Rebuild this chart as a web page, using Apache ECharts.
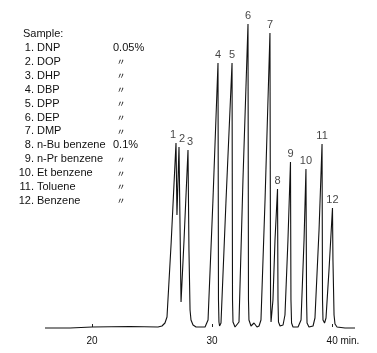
<!DOCTYPE html>
<html>
<head>
<meta charset="utf-8">
<script src="https://cdn.jsdelivr.net/npm/echarts@6/dist/echarts.min.js"></script>
<style>
  html, body { margin: 0; padding: 0; background: #fff; }
  #chart { width: 377px; height: 353px; }
</style>
</head>
<body>
<div id="chart"></div>
<script>
// retention time (min) and detector signal
const traceTime = [
  16.08, 18.17, 20.0, 23.17, 25.5, 25.83, 26.08, 26.25, 26.6,
  27.0, 27.08, 27.25, 27.42, 27.67, 28.0, 28.08, 28.17, 28.25, 28.42, 28.67,
  29.42, 29.58, 29.67, 30.08, 30.5, 30.54, 30.58, 30.63, 30.75, 31.17, 31.67,
  31.71, 31.75, 31.92, 32.08, 32.25, 32.58, 33.0, 33.04, 33.08, 33.25, 33.5,
  33.75, 33.92, 34.08, 34.42, 34.83, 34.88, 34.92, 35.0, 35.08, 35.25, 35.46,
  35.5, 35.54, 35.67, 35.92, 36.08, 36.33, 36.54, 36.58, 36.63, 36.75, 37.17,
  37.42, 37.67, 37.83, 37.88, 37.92, 38.08, 38.42, 38.58, 38.92, 39.17, 39.21,
  39.25, 39.38, 39.5, 39.75, 40.04, 40.08, 40.17, 40.25, 40.42, 41.08, 41.92
]
const traceSignal = [
  -1, -1, 0, 0.5, 0, 1, 4, 10, 85,
  184, 112, 180, 25, 87, 177, 77, 17, 7, 2, 0,
  0, 2, 7, 127, 264, 27, 5, 1, 4, 127, 264,
  27, 5, 0, 0, 5, 147, 303, 27, 7, 1, 4,
  0, 1, 7, 127, 294, 27, 5, 5, 27, 87, 138,
  27, 5, 1, 2, 12, 87, 165, 27, 4, 0, 0,
  7, 87, 158, 27, 4, 0, 1, 9, 97, 183, 27,
  7, 4, 9, 57, 119, 67, 12, 3, 0, -1, -1
]

// peak numbers at their apexes
const peakIds = ['1', '2', '3', '4', '5', '6', '7', '8', '9', '10', '11', '12']
const peakTimes = [27.0, 27.25, 28.0, 30.5, 31.67, 33.0, 34.83, 35.46, 36.54, 37.83, 39.17, 40.04]
const peakHeights = [184, 180, 177, 264, 264, 303, 294, 138, 165, 158, 183, 119]

const sampleNames = ['DNP', 'DOP', 'DHP', 'DBP', 'DPP', 'DEP', 'DMP',
  'n-Bu benzene', 'n-Pr benzene', 'Et benzene', 'Toluene', 'Benzene']
const sampleConc = ['0.05%', '〃', '〃', '〃', '〃', '〃', '〃',
  '0.1%', '〃', '〃', '〃', '〃']

const timeTicks = [20, 30, 40]

const FONT = '"Liberation Sans", Arial, sans-serif'

// 标签微调
const labelShift = { '1': -3, '2': 3, '3': 2 }

const chart = echarts.init(document.getElementById('chart'))

// 样品列表
const legendText = [{
  type: 'text', x: 23, y: 34,
  style: { text: 'Sample:', fontSize: 11, fontFamily: FONT, fill: '#111', align: 'left', verticalAlign: 'middle' }
}]
sampleNames.forEach((name, i) => {
  const y = 48 + i * 13.9
  legendText.push({
    type: 'text', x: 34, y: y,
    style: { text: (i + 1) + '.', fontSize: 11, fontFamily: FONT, fill: '#111', align: 'right', verticalAlign: 'middle' }
  })
  legendText.push({
    type: 'text', x: 37, y: y,
    style: { text: name, fontSize: 11, fontFamily: FONT, fill: '#111', align: 'left', verticalAlign: 'middle' }
  })
  const ditto = sampleConc[i] === '〃'
  legendText.push({
    type: 'text', x: ditto ? 121 : 113, y: y,
    style: {
      text: sampleConc[i], fontSize: ditto ? 9 : 11,
      fontFamily: ditto ? '"Noto Sans CJK JP", sans-serif' : FONT,
      fill: '#111', align: ditto ? 'center' : 'left', verticalAlign: 'middle'
    }
  })
})

const option = {
  animation: false,
  backgroundColor: '#fff',
  grid: { left: 44, right: 21, top: 7, bottom: 20 },
  xAxis: {
    type: 'value',
    min: 16,
    max: 42,
    axisLine: { show: false },
    splitLine: { show: false },
    axisTick: {
      show: true,
      inside: true,
      length: 3,
      customValues: timeTicks,
      lineStyle: { color: '#222', width: 1 }
    },
    axisLabel: {
      show: true,
      margin: 3,
      customValues: timeTicks,
      fontSize: 10,
      fontFamily: FONT,
      color: '#111',
      formatter: v => v === 40 ? '{u|40 min.}' : String(v),
      rich: {
        u: { fontSize: 10, fontFamily: FONT, color: '#111', padding: [0, 0, 0, 22] }
      }
    }
  },
  yAxis: {
    type: 'value',
    min: -6,
    max: 320,
    show: false
  },
  series: [
    {
      type: 'line',
      data: traceTime.map((t, i) => [t, traceSignal[i]]),
      showSymbol: false,
      symbol: 'none',
      smooth: false,
      clip: false,
      lineStyle: { color: '#111', width: 1.1 }
    },
    {
      type: 'scatter',
      symbolSize: 0,
      data: peakTimes.map((t, i) => ({
        value: [t, peakHeights[i]],
        name: peakIds[i],
        label: { offset: [labelShift[peakIds[i]] || 0, 0] }
      })),
      label: {
        show: true,
        position: 'top',
        distance: 3,
        formatter: p => p.name,
        fontSize: 11,
        fontFamily: FONT,
        color: '#111'
      }
    }
  ],
  graphic: legendText
}

chart.setOption(option)
</script>
</body>
</html>
